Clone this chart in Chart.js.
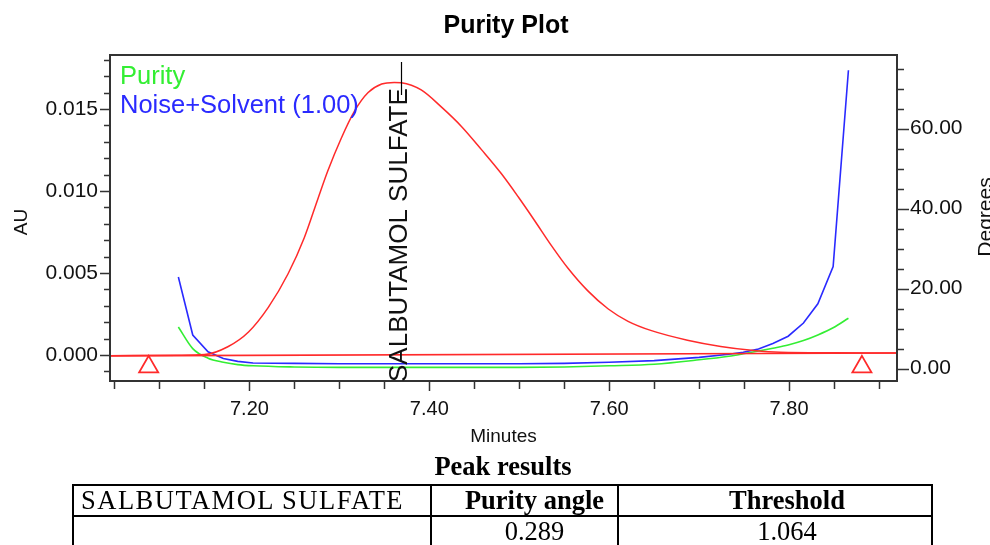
<!DOCTYPE html>
<html>
<head>
<meta charset="utf-8">
<script src="https://cdn.jsdelivr.net/npm/chart.js@4/dist/chart.umd.min.js"></script>
<style>
  body { margin: 0; width: 990px; height: 545px; overflow: hidden; background: #fff; position: relative; }
  #plot { position: absolute; left: 0; top: 0; }
  #peakTitle { position: absolute; left: 0; width: 1006px; top: 451px; text-align: center;
    font: bold 26.5px "Liberation Serif", "Times New Roman", serif; }
  #results { position: absolute; left: 72px; top: 484px; width: 861px; border-collapse: collapse;
    font: 26.5px "Liberation Serif", "Times New Roman", serif; }
  #results td { border: 2px solid #000; height: 29px; padding: 0; text-align: center; line-height: 29px; }
  #results .b { font-weight: bold; }
  #results .nombre { letter-spacing: 1.5px; text-align: left; padding-left: 7px; }
  #results .c2 { padding-left: 20px; }
  #results .c3 { padding-left: 24px; }
</style>
</head>
<body>
<canvas id="plot" width="990" height="455"></canvas>
<div id="peakTitle">Peak results</div>
<table id="results">
  <tr><td class="nombre" style="width:349px">SALBUTAMOL SULFATE</td><td class="b c2" style="width:165px">Purity angle</td><td class="b c3">Threshold</td></tr>
  <tr><td></td><td class="c2">0.289</td><td class="c3">1.064</td></tr>
</table>
<script>
//Datos
const tiempoPico = [7.045, 7.121, 7.150, 7.176, 7.199, 7.221, 7.243, 7.261, 7.276, 7.287, 7.302, 7.317, 7.332, 7.347, 7.361, 7.369, 7.391, 7.413, 7.436, 7.458, 7.480, 7.499, 7.517, 7.536, 7.554, 7.576, 7.599, 7.621, 7.647, 7.687, 7.724, 7.761, 7.790, 7.850, 7.920];
const auPico = [-0.00005, -0.00002, 0.00002, 0.00050, 0.00140, 0.00290, 0.00495, 0.00715, 0.00950, 0.01120, 0.01320, 0.01488, 0.01600, 0.01652, 0.01662, 0.01660, 0.01616, 0.01514, 0.01392, 0.01252, 0.01106, 0.00963, 0.00820, 0.00665, 0.00530, 0.00392, 0.00280, 0.00205, 0.00148, 0.00090, 0.00052, 0.00027, 0.00016, 0.00013, 0.00012];

const tiempoBase = [7.045, 7.920];
const auBase = [-0.00006, 0.00012];

const tiempoCurvas = [7.121, 7.137, 7.154, 7.171, 7.187, 7.204, 7.25, 7.30, 7.35, 7.40, 7.45, 7.50, 7.55, 7.60, 7.65, 7.70, 7.733, 7.749, 7.766, 7.782, 7.799, 7.816, 7.832, 7.849, 7.866];
const gradosPurity = [10.4, 5.0, 2.6, 1.6, 1.0, 0.7, 0.4, 0.3, 0.3, 0.3, 0.3, 0.3, 0.4, 0.7, 1.1, 2.2, 3.1, 3.7, 4.4, 5.1, 5.9, 7.0, 8.4, 10.2, 12.6];
const gradosRuido = [22.9, 8.4, 4.2, 2.5, 1.8, 1.4, 1.3, 1.2, 1.2, 1.2, 1.2, 1.2, 1.3, 1.6, 2.0, 2.8, 3.6, 4.1, 4.9, 6.3, 8.1, 11.4, 16.2, 25.5, 74.6];

const tiempoMarcas = [7.088, 7.881];
const auMarcas = [-0.00073, -0.00073];

const tiempoApice = 7.368;
const nombrePico = 'SALBUTAMOL SULFATE';

const ticksMinutos = [7.20, 7.40, 7.60, 7.80];
const ticksAU = [0.000, 0.005, 0.010, 0.015];
const ticksGrados = [0, 20, 40, 60];

const fuente = '"Liberation Sans", Arial, sans-serif';
Chart.defaults.font.family = fuente;
Chart.defaults.color = '#111';

const juntar = (xs, ys) => xs.map((x, i) => ({ x: x, y: ys[i] }));

//Plugin para caja, ticks menores y textos
const pluginDecor = {
    id: 'decor',
    beforeDraw(chart) {
        const ctx = chart.ctx;
        ctx.save();
        ctx.fillStyle = '#fff';
        ctx.fillRect(0, 0, chart.width, chart.height);
        ctx.restore();
    },
    afterDatasetsDraw(chart) {
        const { ctx, chartArea: a, scales } = chart;
        const x = scales.x, y = scales.y, y1 = scales.y1;
        ctx.save();
        ctx.strokeStyle = '#333';
        ctx.lineWidth = 2;
        ctx.strokeRect(a.left, a.top, a.right - a.left, a.bottom - a.top);

        ctx.lineWidth = 1.5;
        ctx.beginPath();
        //ticks eje izquierdo
        for (let i = -1; i <= 18; i++) {
            const py = Math.round(y.getPixelForValue(i * 0.001)) + 0.5;
            if (py < a.top || py > a.bottom) continue;
            const largo = i % 5 === 0 ? 10 : 6;
            ctx.moveTo(a.left - largo, py); ctx.lineTo(a.left, py);
        }
        //ticks eje derecho
        for (let g = 0; g <= 75; g += 5) {
            const py = Math.round(y1.getPixelForValue(g)) + 0.5;
            if (py < a.top || py > a.bottom) continue;
            const largo = g % 20 === 0 ? 12 : 7;
            ctx.moveTo(a.right, py); ctx.lineTo(a.right + largo, py);
        }
        //ticks eje x
        for (let k = 141; k <= 158; k++) {
            const px = Math.round(x.getPixelForValue(k * 0.05)) + 0.5;
            if (px < a.left || px > a.right) continue;
            const largo = k % 4 === 0 ? 10 : 8;
            ctx.moveTo(px, a.bottom); ctx.lineTo(px, a.bottom + largo);
        }
        ctx.stroke();

        //linea del apice
        const ax = Math.round(x.getPixelForValue(tiempoApice)) + 0.5;
        ctx.strokeStyle = '#000';
        ctx.lineWidth = 1.2;
        ctx.beginPath();
        ctx.moveTo(ax, a.top + 7); ctx.lineTo(ax, a.top + 40);
        ctx.stroke();

        //nombre del pico
        ctx.fillStyle = '#111';
        ctx.font = '26px ' + fuente;
        ctx.translate(ax + 5, a.bottom + 1);
        ctx.rotate(-Math.PI / 2);
        ctx.textAlign = 'left';
        ctx.textBaseline = 'alphabetic';
        ctx.fillText(nombrePico, 0, 0);
        ctx.restore();

        ctx.save();
        //titulo
        ctx.fillStyle = '#000';
        ctx.font = 'bold 25px ' + fuente;
        ctx.textAlign = 'center';
        ctx.textBaseline = 'middle';
        ctx.fillText('Purity Plot', 506, 26);

        //leyenda
        ctx.font = '25.5px ' + fuente;
        ctx.textAlign = 'left';
        ctx.textBaseline = 'alphabetic';
        ctx.fillStyle = '#33ee33';
        ctx.fillText('Purity', a.left + 10, a.top + 29);
        ctx.fillStyle = '#2a2aff';
        ctx.fillText('Noise+Solvent (1.00)', a.left + 10, a.top + 58);

        //titulos de ejes
        ctx.fillStyle = '#111';
        ctx.font = '19px ' + fuente;
        ctx.textAlign = 'center';
        ctx.textBaseline = 'middle';
        ctx.fillText('Minutes', (a.left + a.right) / 2, 437);

        ctx.save();
        ctx.translate(22, 222);
        ctx.rotate(-Math.PI / 2);
        ctx.fillText('AU', 0, 0);
        ctx.restore();

        ctx.save();
        ctx.translate(992, 217);
        ctx.rotate(-Math.PI / 2);
        ctx.font = '21px ' + fuente;
        ctx.textBaseline = 'alphabetic';
        ctx.fillText('Degrees', 0, 0);
        ctx.restore();
        ctx.restore();
    }
};

const config = {
    type: 'line',
    data: {
        datasets: [
            {
                label: 'Pico',
                data: juntar(tiempoPico, auPico),
                yAxisID: 'y',
                borderColor: '#ff2a2a',
                borderWidth: 1.5,
                pointRadius: 0,
                cubicInterpolationMode: 'monotone'
            },
            {
                label: 'Base',
                data: juntar(tiempoBase, auBase),
                yAxisID: 'y',
                borderColor: '#ff2a2a',
                borderWidth: 1.6,
                pointRadius: 0
            },
            {
                label: 'Marcas',
                data: juntar(tiempoMarcas, auMarcas),
                yAxisID: 'y',
                showLine: false,
                pointStyle: 'triangle',
                pointRadius: 11,
                pointBorderWidth: 1.8,
                pointBorderColor: '#ff2a2a',
                pointBackgroundColor: 'rgba(255,255,255,0)'
            },
            {
                label: 'Noise+Solvent (1.00)',
                data: juntar(tiempoCurvas, gradosRuido),
                yAxisID: 'y1',
                borderColor: '#2a2aff',
                borderWidth: 1.6,
                pointRadius: 0,
                tension: 0
            },
            {
                label: 'Purity',
                data: juntar(tiempoCurvas, gradosPurity),
                yAxisID: 'y1',
                borderColor: '#33ee33',
                borderWidth: 1.6,
                pointRadius: 0,
                cubicInterpolationMode: 'monotone'
            }
        ]
    },
    options: {
        responsive: false,
        animation: false,
        layout: { padding: { top: 55, left: 0, right: 0, bottom: 0 } },
        plugins: { legend: { display: false }, title: { display: false }, tooltip: { enabled: false } },
        scales: {
            x: {
                type: 'linear',
                min: 7.045,
                max: 7.920,
                grid: { display: false, drawTicks: false },
                border: { display: false },
                afterBuildTicks: s => { s.ticks = ticksMinutos.map(v => ({ value: v })); },
                afterFit: s => { s.height = 74; },
                ticks: { padding: 16, font: { size: 20 }, callback: v => v.toFixed(2), maxRotation: 0 }
            },
            y: {
                position: 'left',
                min: -0.00159,
                max: 0.01829,
                grid: { display: false, drawTicks: false },
                border: { display: false },
                afterBuildTicks: s => { s.ticks = ticksAU.map(v => ({ value: v })); },
                afterFit: s => { s.width = 110; },
                ticks: { padding: 12, font: { size: 21 }, callback: v => v.toFixed(3) }
            },
            y1: {
                position: 'right',
                min: -3.1,
                max: 78.4,
                grid: { display: false, drawTicks: false },
                border: { display: false },
                afterBuildTicks: s => { s.ticks = ticksGrados.map(v => ({ value: v })); },
                afterFit: s => { s.width = 93; },
                ticks: { padding: 13, font: { size: 21 }, callback: v => v.toFixed(2) }
            }
        }
    },
    plugins: [pluginDecor]
};

new Chart(document.querySelector('#plot'), config);
</script>
</body>
</html>
